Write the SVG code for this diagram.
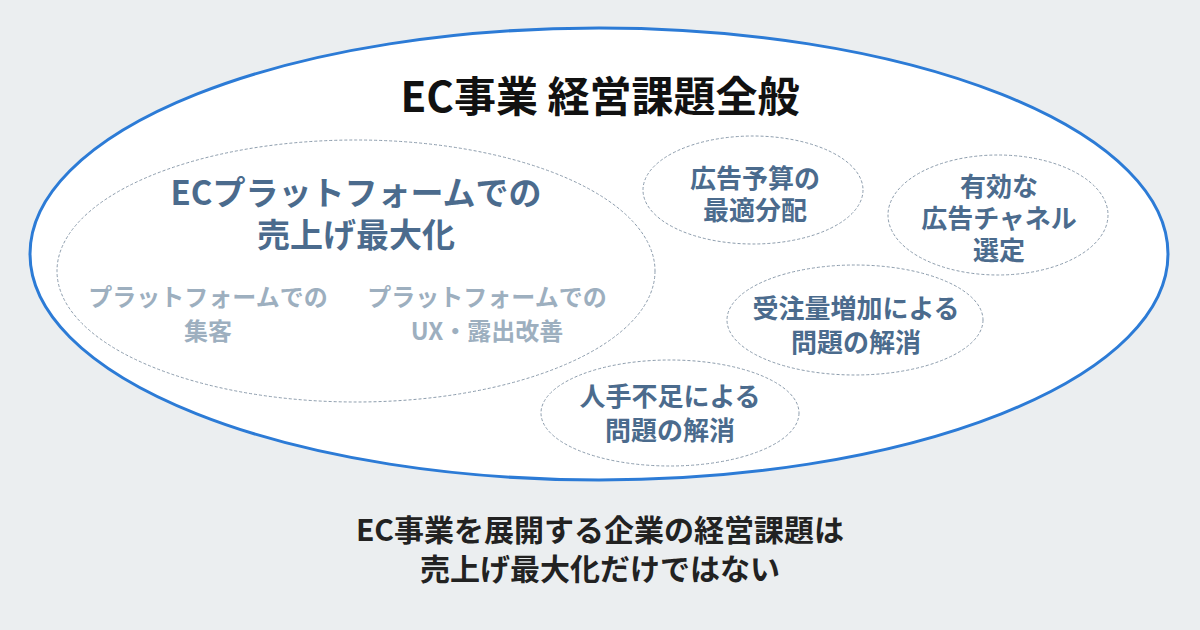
<svg xmlns="http://www.w3.org/2000/svg" width="1200" height="630" viewBox="0 0 1200 630">
<style>
text{font-family:"Noto Sans CJK JP","Noto Sans",sans-serif;font-weight:700;text-anchor:middle}
.dash{fill:none;stroke:#8c9cac;stroke-width:1;stroke-dasharray:3 2}
.node{fill:#4b6b8d;font-size:26px}
.main{fill:#4b6b8d;font-size:33px}
.sub{fill:#9dafbf;font-size:24px}
.cap{fill:#222;font-size:30px}
</style>
<rect width="1200" height="630" fill="#ebeef0"/>
<g id="outer">
<ellipse cx="599" cy="254" rx="569" ry="226" fill="#fff" stroke="#2c7bd6" stroke-width="3"/>
<text x="600" y="112" font-size="42" fill="#111">EC事業 経営課題全般</text>
</g>
<g id="connectors"></g>
<g id="sales">
<ellipse class="dash" cx="356" cy="271" rx="299" ry="131"/>
<text class="main" x="356" y="205">ECプラットフォームでの</text>
<text class="main" x="356" y="247">売上げ最大化</text>
<text class="sub" x="208" y="306">プラットフォームでの</text>
<text class="sub" x="208" y="340">集客</text>
<text class="sub" x="487" y="306">プラットフォームでの</text>
<text class="sub" x="487" y="340">UX・露出改善</text>
</g>
<g id="budget">
<ellipse class="dash" cx="753" cy="190" rx="110" ry="54"/>
<text class="node" x="755" y="188">広告予算の</text>
<text class="node" x="755" y="220">最適分配</text>
</g>
<g id="channel">
<ellipse class="dash" cx="998" cy="215" rx="110" ry="60"/>
<text class="node" x="999" y="196">有効な</text>
<text class="node" x="999" y="228">広告チャネル</text>
<text class="node" x="999" y="260">選定</text>
</g>
<g id="orders">
<ellipse class="dash" cx="855" cy="320" rx="128" ry="55"/>
<text class="node" x="856" y="318">受注量増加による</text>
<text class="node" x="856" y="352">問題の解消</text>
</g>
<g id="staff">
<ellipse class="dash" cx="670" cy="413" rx="129" ry="53"/>
<text class="node" x="670" y="406">人手不足による</text>
<text class="node" x="670" y="440">問題の解消</text>
</g>
<g id="caption">
<text class="cap" x="600" y="541">EC事業を展開する企業の経営課題は</text>
<text class="cap" x="600" y="580">売上げ最大化だけではない</text>
</g>
</svg>
